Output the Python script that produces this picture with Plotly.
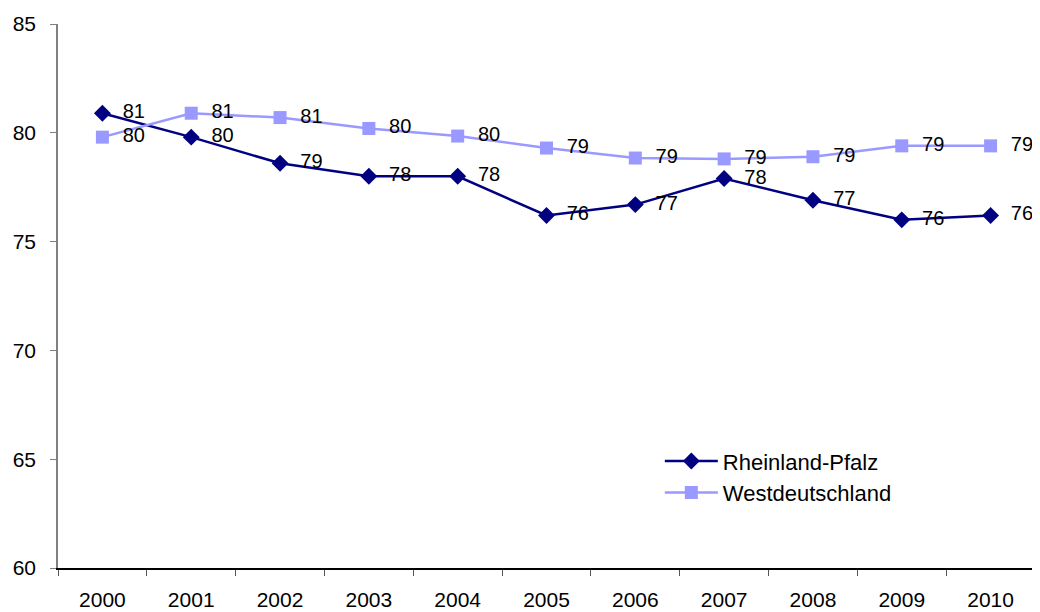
import plotly.graph_objects as go

years = ["2000", "2001", "2002", "2003", "2004", "2005", "2006", "2007", "2008", "2009", "2010"]
rheinland_pfalz = [80.9, 79.8, 78.6, 78.0, 78.0, 76.2, 76.7, 77.9, 76.9, 76.0, 76.2]
westdeutschland = [79.8, 80.9, 80.7, 80.2, 79.85, 79.3, 78.84, 78.8, 78.9, 79.4, 79.4]

FONT = "Liberation Sans, Arial, sans-serif"
FS = 21

fig = go.Figure()
for name, vals, color, sym in [
    ("Rheinland-Pfalz", rheinland_pfalz, "#000080", "diamond"),
    ("Westdeutschland", westdeutschland, "#9999FF", "square"),
]:
    fig.add_trace(go.Scatter(
        x=years, y=vals, name=name,
        mode="lines+markers+text",
        line=dict(color=color, width=2.5),
        marker=dict(symbol=sym, size=13, color=color),
        text=[f"{round(v):d}" for v in vals],
        texttemplate="  %{text}",
        textposition="middle right",
        textfont=dict(size=20, color="black", family=FONT),
        cliponaxis=False,
    ))

fig.update_layout(
    width=1032, height=604,
    margin=dict(l=50, r=5, t=16, b=44),
    paper_bgcolor="white", plot_bgcolor="white",
    font=dict(family=FONT, size=FS, color="black"),
    showlegend=True,
    legend=dict(
        x=0.616, y=0.235, xanchor="left", yanchor="top",
        bgcolor="rgba(0,0,0,0)", font=dict(size=22, family=FONT),
        itemwidth=53, tracegroupgap=0,
    ),
    xaxis=dict(
        type="category", range=[-0.5, 10.5], automargin=False,
        showline=True, linecolor="black", linewidth=1.5,
        ticks="outside", tickson="boundaries", ticklen=6, tickcolor="#555555",
        showgrid=False, zeroline=False,
        ticklabelstandoff=12,
        tickfont=dict(size=FS, family=FONT),
    ),
    yaxis=dict(
        range=[60, 85], tickvals=[60, 65, 70, 75, 80, 85], automargin=False,
        showline=True, linecolor="#808080", linewidth=1.5,
        ticks="outside", ticklen=6, tickcolor="#808080",
        showgrid=False, zeroline=False,
        ticklabelstandoff=10,
        tickfont=dict(size=FS, family=FONT),
    ),
)

fig.write_html("out.html")
